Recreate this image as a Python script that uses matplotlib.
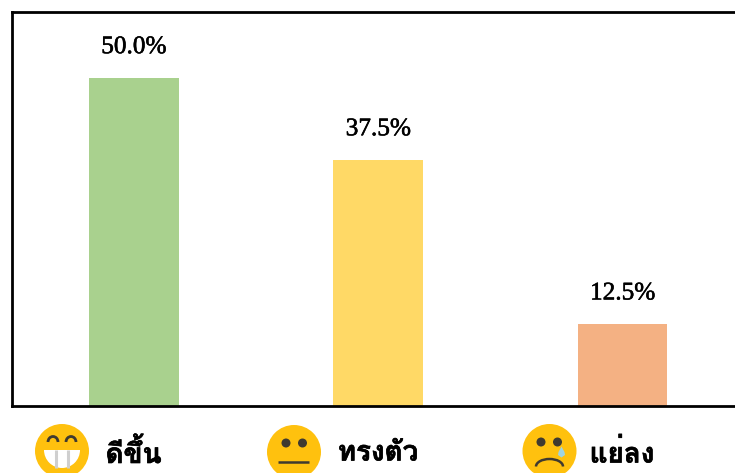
import matplotlib
matplotlib.use("Agg")
import matplotlib.pyplot as plt
import matplotlib.patheffects as pe
from matplotlib.patches import Circle, Arc, Wedge, Polygon
from matplotlib import font_manager as fm

W, H = 735, 473
categories = ["ดีขึ้น", "ทรงตัว", "แย่ลง"]
values = [50.0, 37.5, 12.5]
value_labels = ["50.0%", "37.5%", "12.5%"]
colors = ["#A9D18E", "#FFD966", "#F4B183"]

thai = None
for f in fm.fontManager.ttflist:
    try:
        cmap = fm.get_font(f.fname).get_charmap()
    except Exception:
        continue
    if 0x0E14 in cmap:
        thai = f.name
        break
thai_family = [thai, "DejaVu Sans"] if thai else ["DejaVu Sans"]

fig = plt.figure(figsize=(W / 100, H / 100), dpi=100)
L, R, T, B = 12, 745, 12, 406
ax = fig.add_axes([L / W, 1 - B / H, (R - L) / W, (B - T) / H])
ax.bar(range(3), values, width=0.367, color=colors)
ax.set_xlim(-0.499, 2.501)
ax.set_ylim(0, 60)
ax.set_xticks([])
ax.set_yticks([])
for s in ax.spines.values():
    s.set_linewidth(2.0)
    s.set_color("black")
for i, (v, t) in enumerate(zip(values, value_labels)):
    ax.annotate(t, (i, v), xytext=(0, 30.5), textcoords="offset pixels", ha="center",
                va="center", fontsize=18.2, family="Liberation Serif", color="black",
                path_effects=[pe.withStroke(linewidth=0.4, foreground="black")])

ov = fig.add_axes([0, 0, 1, 1], facecolor="none")
ov.set_xlim(0, W)
ov.set_ylim(H, 0)
ov.axis("off")
yellow = "#FFC10E"
dark = "#3F3A30"

# grin
ov.add_patch(Circle((62, 451), 27, color=yellow, lw=0))
ov.add_patch(Wedge((62, 450), 18, 0, 180, color="white", lw=0))
for x in (56, 68):
    ov.plot([x, x], [450, 468], color="#CFCFCF", lw=2.2, solid_capstyle="butt")
for x in (53, 71):
    ov.add_patch(Arc((x, 442), 10, 11, theta1=180, theta2=360, color=dark, lw=2))

# neutral
ov.add_patch(Circle((294, 452), 27, color=yellow, lw=0))
for x in (286, 302.5):
    ov.add_patch(Circle((x, 443), 4.5, color=dark, lw=0))
ov.plot([278, 309], [461.7, 461.7], color=dark, lw=1.8, solid_capstyle="butt")

# sad
ov.add_patch(Circle((549.5, 451), 27, color=yellow, lw=0))
for x in (541, 557.5):
    ov.add_patch(Circle((x, 442), 4.5, color=dark, lw=0))
ov.add_patch(Arc((549.5, 466.5), 27, 15, theta1=180, theta2=360, color=dark, lw=1.8))
ov.add_patch(Polygon([[561.5, 446.5], [558.5, 452], [558, 455], [561.5, 457.5], [565, 455], [564.5, 452]],
                     color="#9FD4E3", lw=0))

label_x = [133.5, 378, 622]
for x, c in zip(label_x, categories):
    ov.text(x, 453, c, ha="center", va="center", fontsize=20, fontweight="bold",
            family=thai_family, color="black",
            path_effects=[pe.withStroke(linewidth=0.5, foreground="black")])

fig.savefig("out.png", dpi=100)
